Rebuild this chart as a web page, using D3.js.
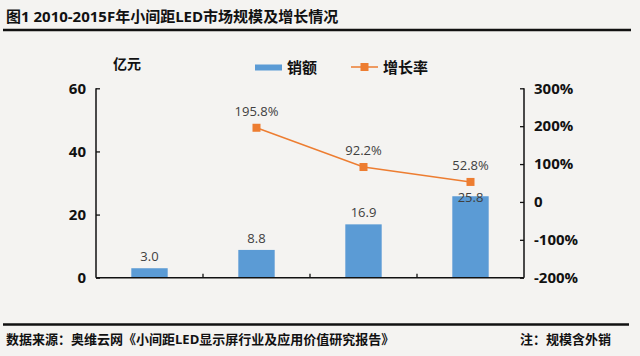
<!DOCTYPE html>
<html><head><meta charset="utf-8">
<script src="https://cdn.jsdelivr.net/npm/d3@7"></script>
<style>
html,body{margin:0;padding:0;background:#F4F3F1;}
svg{display:block;font-family:"Open Sans","Noto Sans CJK SC",sans-serif;}
</style></head>
<body>
<svg id="c" width="640" height="356"></svg>
<script>
const title = "图1 2010-2015F年小间距LED市场规模及增长情况";
const source = "数据来源：奥维云网《小间距LED显示屏行业及应用价值研究报告》";
const note = "注：规模含外销";
const unitLabel = "亿元";
const categories = ["2012", "2013", "2014", "2015F"];
const sales = [3.0, 8.8, 16.9, 25.8];
const growth = [null, 195.8, 92.2, 52.8];
const leftTicks = [0, 20, 40, 60];
const rightTicks = [-200, -100, 0, 100, 200, 300];
const seriesNames = ["销额", "增长率"];

const barColor = "#5B9BD5", lineColor = "#ED7D31";
const svg = d3.select("#c");
svg.append("rect").attr("width",640).attr("height",356).attr("fill","#F4F3F1");

// title
svg.append("text").attr("x",6).attr("y",22).attr("font-size",15).attr("font-weight","bold")
  .attr("fill","#111").text(title);
svg.append("line").attr("x1",3).attr("x2",631).attr("y1",30).attr("y2",30)
  .attr("stroke","#111").attr("stroke-width",2.5);
// footer
svg.append("line").attr("x1",3).attr("x2",629).attr("y1",324.5).attr("y2",324.5)
  .attr("stroke","#111").attr("stroke-width",2.5);
svg.append("text").attr("x",6).attr("y",344).attr("font-size",13).attr("font-weight","bold")
  .attr("fill","#111").text(source);
svg.append("text").attr("x",611).attr("y",344).attr("font-size",13).attr("font-weight","bold")
  .attr("text-anchor","end").attr("fill","#111").text(note);

const x0 = 96, x1 = 524, yTop = 88.3, yBot = 277.7;
const x = d3.scaleBand().domain(categories).range([x0, x1]).padding(0);
const yL = d3.scaleLinear().domain([0, 60]).range([yBot, yTop]);
const yR = d3.scaleLinear().domain([-200, 300]).range([yBot, yTop]);
const bw = x.bandwidth() * 0.34;

// bars
svg.append("g").selectAll("rect").data(sales).join("rect")
  .attr("x",(d,i)=>x(categories[i]) + x.bandwidth()/2 - bw/2)
  .attr("width",bw).attr("y",d=>yL(d)).attr("height",d=>yBot-yL(d))
  .attr("fill",barColor);

// axes
const axL = d3.axisLeft(yL).tickValues(leftTicks).tickSize(-4).tickPadding(10);
const gL = svg.append("g").attr("transform",`translate(${x0},0)`).call(axL);
const axR = d3.axisRight(yR).tickValues(rightTicks).tickSize(-4).tickPadding(10)
  .tickFormat(d => d === 0 ? "0" : d + "%");
const gR = svg.append("g").attr("transform",`translate(${x1},0)`).call(axR);
const axB = d3.axisBottom(x).tickSize(0).tickFormat("");
const gB = svg.append("g").attr("transform",`translate(0,${yBot})`).call(axB);
[gL,gR,gB].forEach(g=>{
  g.select(".domain").attr("stroke","#111").attr("stroke-width",1.5);
  g.selectAll(".tick line").attr("stroke","#111").attr("stroke-width",1.3);
  g.selectAll("text").attr("font-size",15).attr("font-weight","bold").attr("fill","#111")
    .attr("font-family",'"Open Sans","Noto Sans CJK SC",sans-serif');
});
gL.select(".domain").attr("d",`M0,${yTop}V${yBot}`);
gR.select(".domain").attr("d",`M0,${yTop}V${yBot}`);
gB.select(".domain").attr("d",`M${x0},0H${x1}`);
// category boundary ticks
svg.append("g").selectAll("line").data(categories.slice(1)).join("line")
  .attr("x1",d=>x(d)).attr("x2",d=>x(d)).attr("y1",yBot).attr("y2",yBot-4)
  .attr("stroke","#111").attr("stroke-width",1.3);

// unit label
svg.append("text").attr("x",113).attr("y",69).attr("font-size",14).attr("font-weight","bold")
  .attr("fill","#111").text(unitLabel);

// line
const pts = growth.map((g,i)=>g==null?null:[x(categories[i])+x.bandwidth()/2, yR(g), g]).filter(p=>p);
svg.append("path").datum(pts).attr("d",d3.line().x(d=>d[0]).y(d=>d[1]))
  .attr("fill","none").attr("stroke",lineColor).attr("stroke-width",1.5);
svg.append("g").selectAll("rect").data(pts).join("rect")
  .attr("x",d=>d[0]-4).attr("y",d=>d[1]-4).attr("width",8).attr("height",8).attr("fill",lineColor);

// bar labels
svg.append("g").selectAll("text").data(sales).join("text")
  .attr("x",(d,i)=>x(categories[i]) + x.bandwidth()/2)
  .attr("y",(d,i)=>{
    let yy = yL(d) - 7;
    const g = growth[i];
    if (g != null && Math.abs(yR(g) - (yy - 5)) < 10) yy = yL(d) + 6;
    return yy;
  })
  .attr("text-anchor","middle").attr("font-size",13).attr("fill","#404040")
  .text(d=>d.toFixed(1));
// growth labels
svg.append("g").selectAll("text").data(pts).join("text")
  .attr("x",d=>d[0]).attr("y",d=>d[1]-12)
  .attr("text-anchor","middle").attr("font-size",13).attr("fill","#404040")
  .text(d=>d[2].toFixed(1)+"%");

// legend
const lg = svg.append("g");
lg.append("rect").attr("x",255).attr("y",64.5).attr("width",27).attr("height",6).attr("fill",barColor);
lg.append("text").attr("x",287).attr("y",73).attr("font-size",15).attr("font-weight","bold").attr("fill","#111").text(seriesNames[0]);
lg.append("line").attr("x1",351).attr("x2",378).attr("y1",67).attr("y2",67).attr("stroke",lineColor).attr("stroke-width",1.5);
lg.append("rect").attr("x",360.5).attr("y",63).attr("width",8).attr("height",8).attr("fill",lineColor);
lg.append("text").attr("x",383).attr("y",73).attr("font-size",15).attr("font-weight","bold").attr("fill","#111").text(seriesNames[1]);
</script>
</body></html>
